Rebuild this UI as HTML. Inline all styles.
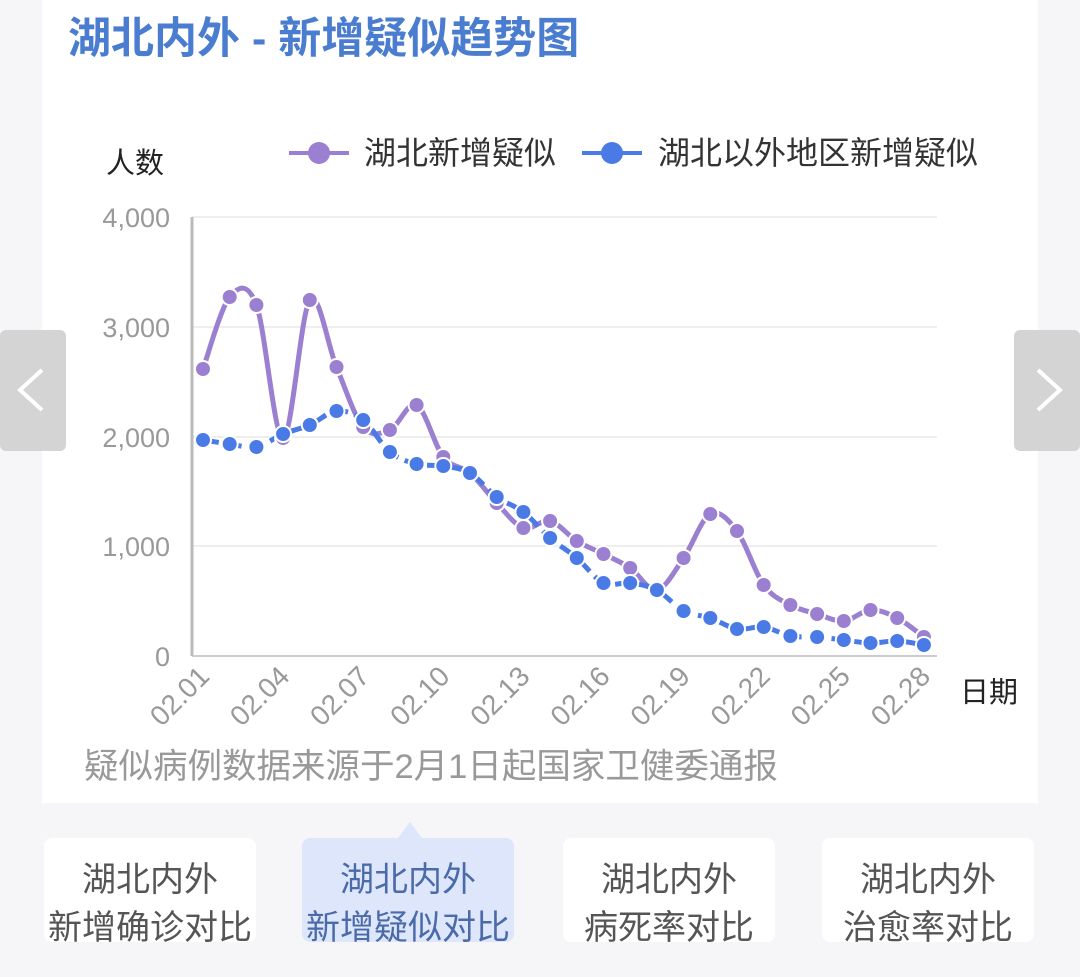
<!DOCTYPE html>
<html><head><meta charset="utf-8"><style>
body{margin:0;width:1080px;height:977px;background:#f6f6f8;font-family:"Liberation Sans","Noto Sans CJK SC",sans-serif;position:relative;overflow:hidden}
.card{position:absolute;left:42px;top:0;width:996px;height:803px;background:#fff}
.btn{position:absolute;top:838px;width:212px;height:104px;background:#fff;border-radius:8px;color:#555;font-size:34px;text-align:center;line-height:48px;padding-top:18px;box-sizing:border-box}
.nav{position:absolute;top:330px;width:66px;height:121px;background:#d4d4d4;border-radius:6px}
</style></head><body>
<div class="card"></div>
<svg width="1080" height="977" style="position:absolute;left:0;top:0" font-family="Liberation Sans, Noto Sans CJK SC, sans-serif">
<text x="68" y="53" font-size="43" font-weight="bold" fill="#4a7cd0">湖北内外 - 新增疑似趋势图</text>
<text x="106" y="173" font-size="29" fill="#222">人数</text>
<line x1="289" y1="153" x2="349" y2="153" stroke="#9b7fd0" stroke-width="4"/><circle cx="319" cy="153" r="11" fill="#9b7fd0"/>
<text x="364" y="164" font-size="32" fill="#333">湖北新增疑似</text>
<line x1="582" y1="153" x2="642" y2="153" stroke="#4a7ae6" stroke-width="4"/><circle cx="612" cy="153" r="11" fill="#4a7ae6"/>
<text x="658" y="164" font-size="32" fill="#333">湖北以外地区新增疑似</text>
<g stroke="#eee" stroke-width="2"><line x1="192" y1="217" x2="937" y2="217"/><line x1="192" y1="327" x2="937" y2="327"/><line x1="192" y1="437" x2="937" y2="437"/><line x1="192" y1="546" x2="937" y2="546"/></g>
<line x1="192" y1="656" x2="937" y2="656" stroke="#ccc" stroke-width="2"/>
<line x1="192" y1="217" x2="192" y2="656" stroke="#bbb" stroke-width="3"/>
<g font-size="27" fill="#999" text-anchor="end"><text x="170" y="227">4,000</text><text x="170" y="337">3,000</text><text x="170" y="447">2,000</text><text x="170" y="556">1,000</text><text x="170" y="666">0</text></g>
<g id="xl" font-size="28" fill="#999"></g>
<text x="960" y="702" font-size="29" fill="#222">日期</text>
<text x="84" y="778" font-size="34.5" fill="#999">疑似病例数据来源于2月1日起国家卫健委通报</text>
<path id="pp" fill="none" stroke="#9b7fd0" stroke-width="5"/>
<path id="bp" fill="none" stroke="#4a7ae6" stroke-width="5" stroke-dasharray="16,7"/>
<g id="pd" fill="#9b7fd0" stroke="#fff" stroke-width="2"></g>
<g id="bd" fill="#4a7ae6" stroke="#fff" stroke-width="2"></g>
<path d="M398 838 L410 822 L422 838Z" fill="#dde6fb"/>
</svg>
<div class="nav" style="left:0"><svg width="66" height="121"><path d="M42 40 L20 60 L42 80" stroke="#fff" stroke-width="4" fill="none"/></svg></div>
<div class="nav" style="left:1014px"><svg width="66" height="121"><path d="M24 40 L46 60 L24 80" stroke="#fff" stroke-width="4" fill="none"/></svg></div>
<div class="btn" style="left:44px">湖北内外<br>新增确诊对比</div>
<div class="btn" style="left:302px;background:#dde6fb;color:#4a6aa8">湖北内外<br>新增疑似对比</div>
<div class="btn" style="left:563px">湖北内外<br>病死率对比</div>
<div class="btn" style="left:822px">湖北内外<br>治愈率对比</div>
<script>
var P=[369,297,305,438,300,367,427,430,405,457,473,503,528,521,541,554,568,590,558,514,531,585,605,614,621,610,618,637];
var B=[440,444,447,434,425,411,420,452,464,466,473,497,512,538,558,583,583,590,611,618,629,627,636,637,640,643,641,645];
function X(i){return 203+i*26.7}
function path(a){var d="M"+X(0)+" "+a[0];for(var i=0;i<a.length-1;i++){var p0=a[Math.max(i-1,0)],p1=a[i],p2=a[i+1],p3=a[Math.min(i+2,a.length-1)];var x0=X(Math.max(i-1,0)),x1=X(i),x2=X(i+1),x3=X(Math.min(i+2,a.length-1));d+=" C"+(x1+(x2-x0)/6)+" "+(p1+(p2-p0)/6)+" "+(x2-(x3-x1)/6)+" "+(p2-(p3-p1)/6)+" "+x2+" "+p2;}return d}
document.getElementById('pp').setAttribute('d',path(P));
document.getElementById('bp').setAttribute('d',path(B));
var ns="http://www.w3.org/2000/svg";
function dots(a,id){var g=document.getElementById(id);a.forEach(function(y,i){var c=document.createElementNS(ns,'circle');c.setAttribute('cx',X(i));c.setAttribute('cy',y);c.setAttribute('r',8);g.appendChild(c)})}
dots(P,'pd');dots(B,'bd');
var xl=document.getElementById('xl');
for(var i=0;i<28;i+=3){var t=document.createElementNS(ns,'text');var x=X(i)+8,y=678;t.setAttribute('x',x);t.setAttribute('y',y);t.setAttribute('text-anchor','end');t.setAttribute('transform','rotate(-45 '+x+' '+y+')');t.textContent='02.'+(i+1<10?'0':'')+(i+1);xl.appendChild(t)}
</script>
</body></html>
